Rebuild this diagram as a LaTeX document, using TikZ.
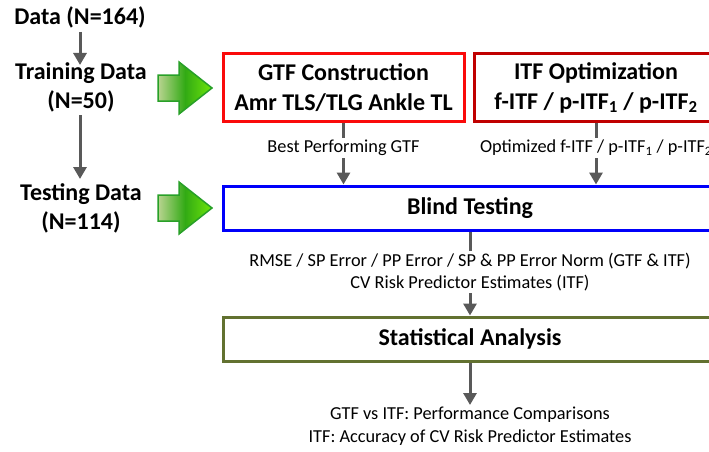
\documentclass[tikz,border=0pt]{standalone}
\usepackage{fontspec}
\setmainfont{Carlito}
\usetikzlibrary{arrows.meta}
\definecolor{gtfred}{RGB}{250,10,10}
\definecolor{itfred}{RGB}{192,0,0}
\definecolor{blindblue}{RGB}{0,0,250}
\definecolor{statolive}{RGB}{98,113,48}
\definecolor{arrgray}{RGB}{89,89,89}
\definecolor{garrline}{RGB}{40,160,40}
\definecolor{garrlight}{RGB}{185,212,145}
\definecolor{garrmid}{RGB}{50,170,20}
\definecolor{garrright}{RGB}{110,230,10}
\tikzset{
  bigtxt/.style={font=\fontsize{24}{29}\selectfont\bfseries, align=center, inner sep=0pt},
  smalltxt/.style={font=\fontsize{18.3}{22.5}\selectfont, align=center, inner sep=2pt},
  flowbox/.style={line width=3pt, minimum height=#1, inner sep=0pt, align=center, font=\fontsize{24}{30}\selectfont\bfseries},
  conn/.style={draw=arrgray, line width=3pt},
  connarr/.style={conn, -{Triangle[width=13pt,length=12pt]}},
  greenarr/.style={draw=garrline, line width=1.5pt, left color=garrlight, right color=garrright, middle color=garrmid, shading angle=90}
}
\begin{document}
\begin{tikzpicture}[x=1pt,y=-1pt]
\useasboundingbox (0,0) rectangle (709,452);
\begin{scope}
\clip (0,0) rectangle (709,452);
% left column
\node[bigtxt] (data) at (80,17) {Data (N=164)};
\node[bigtxt] (train) at (81,87) {Training Data\\(N=50)};
\node[bigtxt] (test) at (81,208) {Testing Data\\(N=114)};
\coordinate (dataend) at (80,32);
\coordinate (trainhead) at (80,65);
\coordinate (trainend) at (80,115);
\coordinate (testhead) at (80,179);
\draw[connarr] (dataend) -- (trainhead);
\draw[connarr] (trainend) -- (testhead);
% green arrows
\draw[greenarr] (158,75) -- (179,75) -- (179,62) -- (212,88) -- (179,114) -- (179,101) -- (158,101) -- cycle;
\draw[greenarr] (158,195) -- (179,195) -- (179,182) -- (212,208) -- (179,234) -- (179,221) -- (158,221) -- cycle;
% boxes
\node[flowbox=67pt, draw=gtfred, minimum width=241pt] (gtf) at (343.5,87.5) {GTF Construction\\Amr TLS/TLG Ankle TL};
\node[flowbox=67pt, draw=itfred, minimum width=244pt] (itf) at (596,87.5) {ITF Optimization\\f-ITF / p-ITF\textsubscript{1} / p-ITF\textsubscript{2}};
\node[flowbox=44pt, draw=blindblue, minimum width=494pt] (blind) at (470,208) {Blind Testing};
\node[flowbox=44pt, draw=statolive, minimum width=494pt] (stat) at (470,339) {Statistical Analysis};
% labels
\node[smalltxt] (lbest) at (343.5,148) {Best Performing GTF};
\node[smalltxt] (lopt) at (596,148) {Optimized f-ITF / p-ITF\textsubscript{1} / p-ITF\textsubscript{2}};
\node[smalltxt] (lrmse) at (470,272) {RMSE / SP Error / PP Error / SP \& PP Error Norm (GTF \& ITF)\\CV Risk Predictor Estimates (ITF)};
\node[smalltxt, anchor=north] (lfinal) at (470,405) {GTF vs ITF: Performance Comparisons\\ITF: Accuracy of CV Risk Predictor Estimates};
% connectors
\draw[conn] (gtf.south) -- (lbest.north);
\draw[connarr] (lbest.south) -- (blind.north -| lbest);
\draw[conn] (itf.south) -- (lopt.north);
\draw[connarr] (lopt.south) -- (blind.north -| lopt);
\draw[conn] (blind.south) -- (lrmse.north);
\draw[connarr] (lrmse.south) -- (stat.north);
\draw[connarr] (stat.south) -- (lfinal.north);
\end{scope}
\end{tikzpicture}
\end{document}
